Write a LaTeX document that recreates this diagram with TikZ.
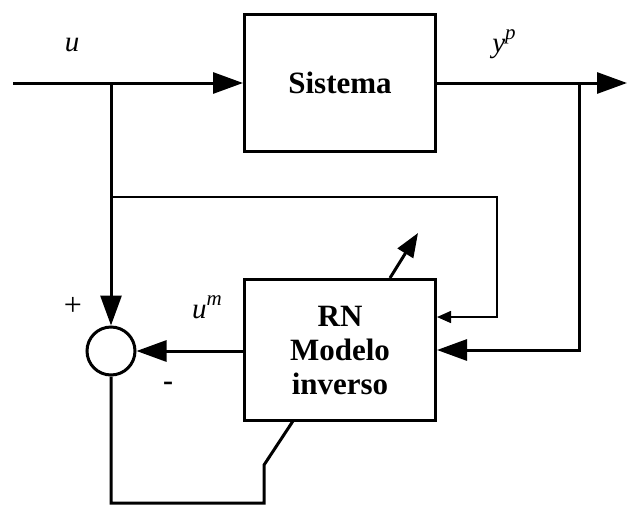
\documentclass[tikz,border=0pt]{standalone}
\usepackage{fontspec}
\setmainfont{Liberation Serif}
\usetikzlibrary{arrows.meta}
\newcommand{\supx}[1]{\raisebox{0.45em}{\fontsize{21}{22}\selectfont #1}}
\begin{document}
\begin{tikzpicture}[x=1pt,y=-1pt,
  blk/.style={draw, line width=3pt, inner sep=0pt, align=center,
    font=\bfseries\fontsize{31}{34}\selectfont},
  sumc/.style={draw, circle, line width=3pt, minimum size=48pt, inner sep=0pt},
  thick line/.style={line width=3pt},
  thin line/.style={line width=1.5pt},
  bigarr/.style={-{Triangle[length=30pt,width=21pt]}},
  smallarr/.style={-{Triangle[length=14pt,width=12pt]}},
  midarr/.style={-{Triangle[length=24pt,width=18pt]}},
  lbl/.style={font=\itshape\fontsize{29}{30}\selectfont, inner sep=0pt}
]
\useasboundingbox (0,0) rectangle (628,506);

\node[blk, minimum width=191pt, minimum height=137pt] (sys) at (340,83) {Sistema};
\node[blk, minimum width=191pt, minimum height=141pt] (rn) at (340,350) {RN\\Modelo\\inverso};
\node[sumc] (sum) at (111,351) {};

\coordinate (in) at (13,83);
\coordinate (out) at (627,83);
\coordinate (bu) at (111,83);
\coordinate (by) at (579,83);
\coordinate (tl) at (111,197);
\coordinate (tr) at (497,197);
\coordinate (tb) at (497,317);
\coordinate (yb) at (579,350);
\coordinate (b1) at (111,503);
\coordinate (b2) at (264,503);
\coordinate (b3) at (264,465);
\coordinate (b4) at (293,421);
\coordinate (d0) at (390,278);
\coordinate (d1) at (418,233);

% main path
\draw[thick line, bigarr] (in) -- (sys.west);
\draw[thick line, bigarr] (sys.east) -- (out);
\draw[thick line, bigarr] (bu) -- (sum.north);
\draw[thick line, bigarr] (by) -- (yb) -- (rn.east |- yb);
\draw[thick line, bigarr] (rn.west |- sum) -- (sum.east);
\draw[thin line, smallarr] (tl) -- (tr) -- (tb) -- (rn.east |- tb);
\draw[thick line] (sum.south) -- (b1) -- (b2) -- (b3) -- (b4);
\draw[thick line, midarr] (d0) -- (d1);

% labels
\node[lbl] (lu) at (72,45) {u};
\node[lbl] (ly) at (504,44) {y\supx{p}};
\node[lbl] (lum) at (207,307) {u\supx{m}};
\node[font=\fontsize{32}{34}\selectfont, inner sep=0pt] (lp) at (73,306) {+};
\node[font=\bfseries\fontsize{30}{32}\selectfont, inner sep=0pt] (lm) at (168,386) {-};
\end{tikzpicture}
\end{document}
